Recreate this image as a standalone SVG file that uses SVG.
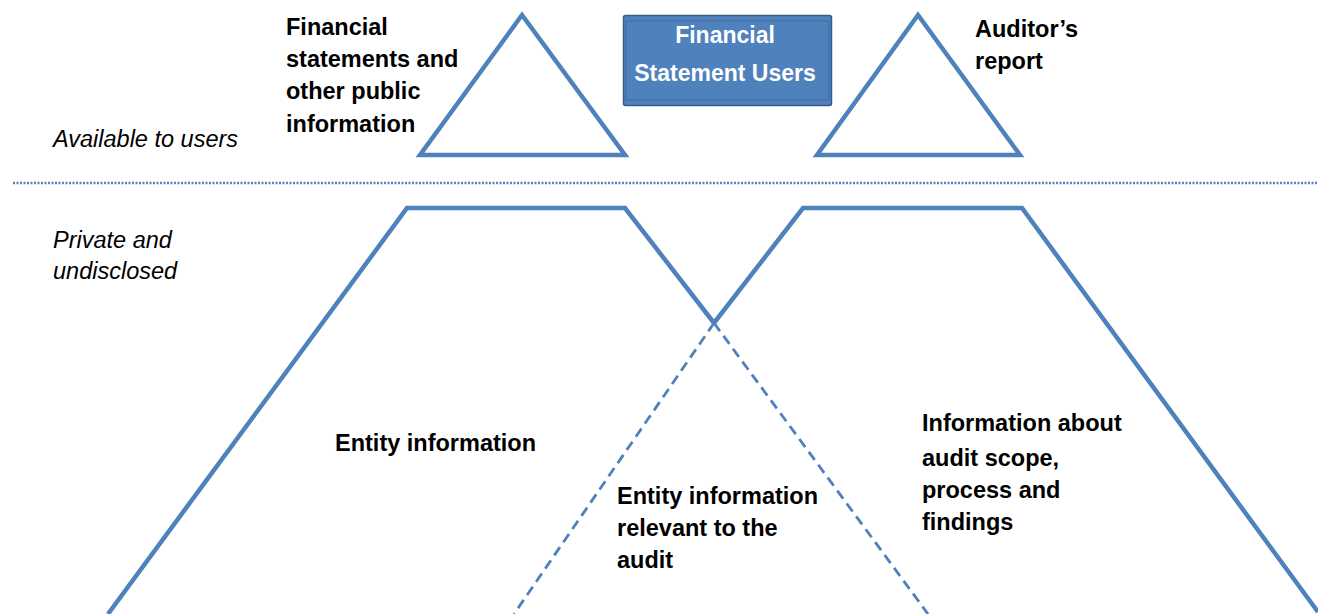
<svg xmlns="http://www.w3.org/2000/svg" width="1318" height="614" viewBox="0 0 1318 614">
<style>
.shape{fill:none;stroke:#4F81BD;stroke-width:4.5;stroke-linejoin:miter}
.dash{fill:none;stroke:#4F81BD;stroke-width:2.8;stroke-dasharray:10 6}
.lbl{font-family:"Liberation Sans",Arial,sans-serif;font-weight:bold;font-size:23.5px;fill:#000}
.it{font-family:"Liberation Sans",Arial,sans-serif;font-style:italic;font-size:23.5px;fill:#000}
.box{font-family:"Liberation Sans",Arial,sans-serif;font-weight:bold;font-size:23px;fill:#fff;text-anchor:middle}
</style>
<rect width="1318" height="614" fill="#fff"/>
<g id="divider">
<line x1="13" y1="183" x2="1318" y2="183" stroke="#4F81BD" stroke-width="2.5" stroke-dasharray="2 1.5"/>
</g>
<g id="left-triangle">
<polygon class="shape" points="522,15 420,155 625,155"/>
</g>
<g id="right-triangle">
<polygon class="shape" points="918,15 817,155 1020,155"/>
</g>
<g id="users-box">
<rect x="623.5" y="15.5" width="208" height="90" rx="2" fill="#4F81BD" stroke="#385D8A" stroke-width="1.5"/>
<rect x="626" y="21" width="203" height="79" fill="none" stroke="#3E6BA3" stroke-width="1"/>
<text class="box" x="725" y="43">Financial</text>
<text class="box" x="725" y="81">Statement Users</text>
</g>
<g id="connectors">
<polyline class="shape" points="108,614 407,208 625,208 714,323"/>
<polyline class="shape" points="714,323 803,208 1022,208 1318,612"/>
<line class="dash" x1="714" y1="323" x2="928" y2="614"/>
<line class="dash" x1="714" y1="323" x2="514" y2="614"/>
</g>
<g id="text-public">
<text class="lbl" x="286" y="35">Financial</text>
<text class="lbl" x="286" y="67">statements and</text>
<text class="lbl" x="286" y="99">other public</text>
<text class="lbl" x="286" y="132">information</text>
</g>
<g id="text-report">
<text class="lbl" x="975" y="37">Auditor’s</text>
<text class="lbl" x="975" y="69">report</text>
</g>
<g id="text-available">
<text class="it" x="53" y="147">Available to users</text>
</g>
<g id="text-private">
<text class="it" x="53" y="248">Private and</text>
<text class="it" x="53" y="279">undisclosed</text>
</g>
<g id="text-entity">
<text class="lbl" x="335" y="451">Entity information</text>
</g>
<g id="text-relevant">
<text class="lbl" x="617" y="504">Entity information</text>
<text class="lbl" x="617" y="536">relevant to the</text>
<text class="lbl" x="617" y="568">audit</text>
</g>
<g id="text-audit">
<text class="lbl" x="922" y="431">Information about</text>
<text class="lbl" x="922" y="466">audit scope,</text>
<text class="lbl" x="922" y="498">process and</text>
<text class="lbl" x="922" y="530">findings</text>
</g>
</svg>
